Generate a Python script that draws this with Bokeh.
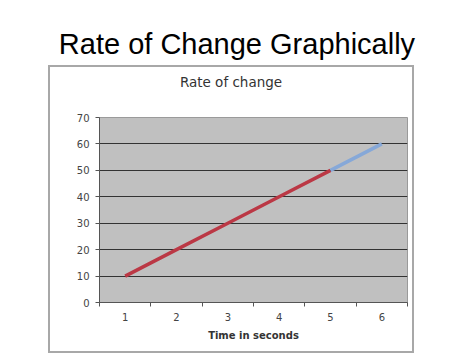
from bokeh.plotting import figure
from bokeh.models import FixedTicker, Range1d, Div, Spacer
from bokeh.layouts import column, row
from bokeh.embed import file_html
from bokeh.resources import INLINE

slide_title = "Rate of Change Graphically"
chart_title = "Rate of change"
x_title = "Time in seconds"
red_x = [1, 2, 3, 4, 5]
red_y = [10, 20, 30, 40, 50]
blue_x = [5, 6]
blue_y = [50, 60]
y_ticks = [0, 10, 20, 30, 40, 50, 60, 70]
x_ticks = [1, 2, 3, 4, 5, 6]

title_div = Div(
    text=('<div style="font-family:\'Liberation Sans\';font-size:29px;line-height:34px;'
          'color:black;text-align:center;width:474px;padding-top:27px;">%s</div>' % slide_title),
    width=474, height=65, margin=(0, 0, 0, 0))

chart_title_div = Div(
    text=('<div style="font-family:\'DejaVu Sans\';font-size:13.5px;line-height:18px;'
          'color:#333333;text-align:center;width:362px;padding-top:6px;">%s</div>' % chart_title),
    width=362, height=40, margin=(0, 0, 0, 0))

p = figure(width=362, height=244, output_backend="svg", toolbar_location=None,
           x_range=Range1d(0.5, 6.5), y_range=Range1d(0, 70),
           min_border_left=49, min_border_right=5, min_border_top=10, min_border_bottom=49,
           margin=(0, 0, 0, 0))
p.background_fill_color = "#c0c0c0"
p.border_fill_color = "white"
p.outline_line_color = "#9a9a9a"

p.xgrid.grid_line_color = None
p.ygrid.grid_line_color = "#333333"
p.ygrid.grid_line_width = 1

p.line(red_x, red_y, line_color="#bb3845", line_width=3.5)
p.line(blue_x, blue_y, line_color="#86a8d8", line_width=3.5)

p.xaxis.ticker = FixedTicker(ticks=x_ticks, minor_ticks=[0.5, 1.5, 2.5, 3.5, 4.5, 5.5, 6.5])
p.xaxis.major_tick_out = 0
p.xaxis.major_tick_in = 0
p.xaxis.minor_tick_out = 4
p.xaxis.minor_tick_in = 0
p.yaxis.ticker = FixedTicker(ticks=y_ticks, minor_ticks=[])
p.yaxis.major_tick_out = 4
p.yaxis.major_tick_in = 0
for ax in (p.xaxis[0], p.yaxis[0]):
    ax.axis_line_color = "#555555"
    ax.major_tick_line_color = "#555555"
    ax.minor_tick_line_color = "#555555"
    ax.major_label_text_font = "DejaVu Sans"
    ax.major_label_text_font_size = "10px"
    ax.major_label_text_color = "#444444"
p.xaxis.major_label_standoff = 6
p.yaxis.major_label_standoff = 6
p.xaxis.axis_label = x_title
p.xaxis.axis_label_text_font = "DejaVu Sans"
p.xaxis.axis_label_text_font_style = "bold"
p.xaxis.axis_label_text_font_size = "10px"
p.xaxis.axis_label_text_color = "#333333"
p.xaxis.axis_label_standoff = 6

box = column(chart_title_div, p, spacing=0, margin=(0, 0, 0, 0))
box.styles = {"border": "2px solid #a8a8a8", "background-color": "white"}
layout = column(title_div, row(Spacer(width=48, height=288), box, spacing=0), spacing=0)
open("out.html", "w").write(file_html(layout, INLINE))
